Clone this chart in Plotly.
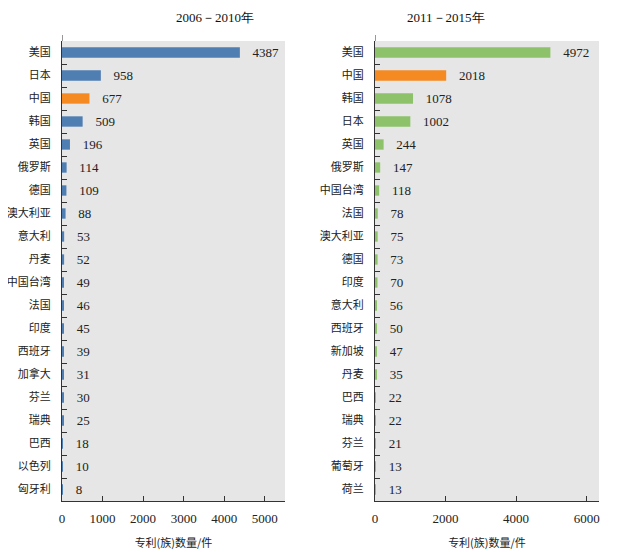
import plotly.graph_objects as go

# 2006-2010
cats_a = ["美国", "日本", "中国", "韩国", "英国", "俄罗斯", "德国", "澳大利亚", "意大利", "丹麦",
          "中国台湾", "法国", "印度", "西班牙", "加拿大", "芬兰", "瑞典", "巴西", "以色列", "匈牙利"]
vals_a = [4387, 958, 677, 509, 196, 114, 109, 88, 53, 52, 49, 46, 45, 39, 31, 30, 25, 18, 10, 8]

# 2011-2015
cats_b = ["美国", "中国", "韩国", "日本", "英国", "俄罗斯", "中国台湾", "法国", "澳大利亚", "德国",
          "印度", "意大利", "西班牙", "新加坡", "丹麦", "巴西", "瑞典", "芬兰", "葡萄牙", "荷兰"]
vals_b = [4972, 2018, 1078, 1002, 244, 147, 118, 78, 75, 73, 70, 56, 50, 47, 35, 22, 22, 21, 13, 13]

title_a = "2006－2010年"
title_b = "2011－2015年"
xlabel = "专利(族)数量/件"

BLUE = "#4F7EB3"
GREEN = "#8DC26A"
ORANGE = "#F58A22"
colors_a = [ORANGE if c == "中国" else BLUE for c in cats_a]
colors_b = [ORANGE if c == "中国" else GREEN for c in cats_b]

serif = "Liberation Serif"
cjk = "Noto Sans CJK SC"

W, H, OFF = 618, 552, 8  # page body offset

fig = go.Figure()
for cats, vals, cols, xa, ya in [(cats_a, vals_a, colors_a, "x", "y"), (cats_b, vals_b, colors_b, "x2", "y2")]:
    fig.add_trace(go.Bar(
        y=cats, x=vals, orientation="h", marker=dict(color=cols, line=dict(width=0)),
        width=0.45, text=vals, texttemplate="   %{x}", textposition="outside", cliponaxis=False,
        constraintext="none", textangle=0,
        textfont=dict(family=serif, size=13, color="#222"), xaxis=xa, yaxis=ya, showlegend=False))

top_px = 41 - OFF
ydom = [1 - (501 - OFF) / H, 1 - top_px / H]
common_y = dict(autorange="reversed", type="category", showline=True, linecolor="#333", linewidth=1,
                ticks="inside", tickson="boundaries", ticklen=5, tickcolor="#333", automargin=False,
                tickfont=dict(family=cjk, size=11, color="#222"), showgrid=False, domain=ydom,
                ticklabelstandoff=8)
common_x = dict(showline=True, linecolor="#333", linewidth=1, ticks="inside", ticklen=5,
                tickcolor="#333", showgrid=False, zeroline=False, automargin=False,
                ticklabelstandoff=5,
                tickfont=dict(family=serif, size=13, color="#222"))

dom_a = [(62 - OFF) / W, (285 - OFF) / W]
dom_b = [(375 - OFF) / W, (599 - OFF) / W]

shapes = []
for xr in ["x", "x2"]:
    shapes.append(dict(type="line", xref=xr, yref="paper", x0=0, x1=0,
                       y0=1 - top_px / H, y1=1 - (top_px - 6) / H,
                       line=dict(color="#333", width=1)))

fig.update_layout(
    width=W, height=H, margin=dict(l=0, r=0, t=0, b=0),
    paper_bgcolor="white", plot_bgcolor="#E6E6E6", shapes=shapes,
    xaxis=dict(**common_x, domain=dom_a, range=[0, 5500], dtick=1000,
               anchor="y", title=dict(text=xlabel, font=dict(family=cjk, size=11, color="#222"), standoff=14)),
    yaxis=dict(**common_y, anchor="x"),
    xaxis2=dict(**common_x, domain=dom_b, range=[0, 6350], dtick=2000,
                anchor="y2", title=dict(text=xlabel, font=dict(family=cjk, size=11, color="#222"), standoff=14)),
    yaxis2=dict(**common_y, anchor="x2"),
    annotations=[
        dict(text=title_a, x=sum(dom_a) / 2, y=1, xref="paper", yref="paper",
             showarrow=False, font=dict(family=serif, size=13, color="#111"), yanchor="top"),
        dict(text=title_b, x=sum(dom_b) / 2, y=1, xref="paper", yref="paper",
             showarrow=False, font=dict(family=serif, size=13, color="#111"), yanchor="top"),
    ],
)

fig.write_html("out.html")
